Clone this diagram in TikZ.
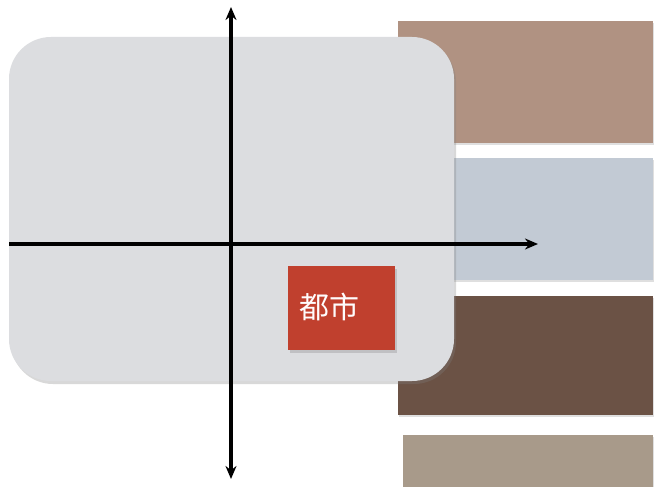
\documentclass[tikz,border=0pt]{standalone}
\usepackage{fontspec}
\newfontfamily\cjk{Noto Sans CJK SC}
\usetikzlibrary{arrows.meta,shadows,calc}
\definecolor{barA}{HTML}{B09282}
\definecolor{barB}{HTML}{C2CAD4}
\definecolor{barC}{HTML}{6B5245}
\definecolor{barD}{HTML}{A89A8A}
\definecolor{panel}{HTML}{DCDDE0}
\definecolor{cityred}{HTML}{C0402E}
\tikzset{
  bar/.style={fill=#1, draw=none, drop shadow={shadow xshift=1pt, shadow yshift=-2pt, opacity=0.25}},
  axis/.style={line width=3.5pt, -{Stealth[length=13pt,width=11pt]}},
}
\begin{document}
\begin{tikzpicture}[x=1pt,y=-1pt]
\useasboundingbox (0,0) rectangle (654,487);
\fill[white] (0,0) rectangle (654,487);
% bars
\path[bar=barA] (398,21) rectangle (653,143);
\path[bar=barB] (398,158) rectangle (653,280);
\path[bar=barC] (398,296) rectangle (653,415);
\path[bar=barD] (403,435) rectangle (653,490);
% panel
\path[fill=panel, rounded corners=42pt, drop shadow={shadow xshift=2pt, shadow yshift=-3pt, opacity=0.3}] (9,37) rectangle (454,381);
% axes
\coordinate (origin) at (231,244);
\coordinate (vtop) at (231,7);
\coordinate (vbot) at (231,479);
\coordinate (hleft) at (9,244);
\coordinate (hright) at (538,244);
\draw[axis] (origin) -- (vtop);
\draw[axis] (origin) -- (vbot);
\draw[line width=3.5pt] (hleft) -- (origin);
\draw[axis] (origin) -- (hright);
% city box
\node[fill=cityred, minimum width=107pt, minimum height=84pt, inner sep=0pt,
  drop shadow={shadow xshift=2pt, shadow yshift=-3pt, opacity=0.3}] (city) at (341.5,308) {};
\node[text=white!95!pink, font=\cjk\fontsize{30}{30}\selectfont, anchor=west] (citylabel) at (296,307) {都市};
\end{tikzpicture}
\end{document}
